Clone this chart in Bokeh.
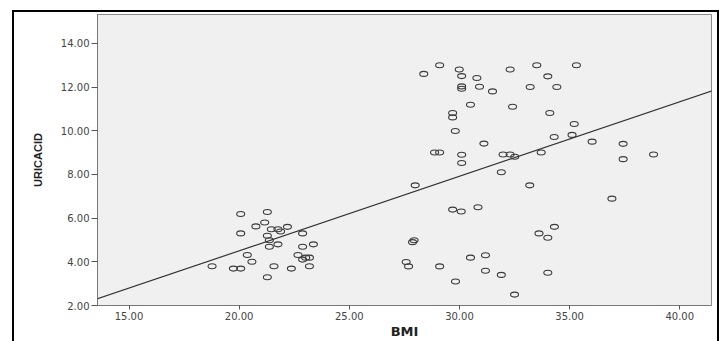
from bokeh.plotting import figure
from bokeh.models import Range1d, FixedTicker, NumeralTickFormatter, Slope, ColumnDataSource, InlineStyleSheet
from bokeh.embed import file_html
from bokeh.resources import INLINE

bmi = [20.07, 21.28, 21.16, 20.76, 21.46, 21.76, 21.88, 22.19, 20.07, 22.88,
       21.28, 21.37, 21.76, 21.37, 22.88, 23.37, 20.37, 20.58, 22.67, 22.88,
       23.02, 23.19, 18.77, 19.74, 20.07, 21.58, 22.37, 23.19, 21.28,
       29.10, 28.38, 29.99, 30.10, 30.79, 32.30, 30.10, 30.10, 30.91, 31.50,
       30.50, 32.41, 29.69, 29.69, 29.81, 31.11, 28.87, 29.10, 30.10, 30.10,
       31.98, 32.30, 32.51, 33.51, 35.31, 34.01, 33.21, 34.42, 34.10, 35.21,
       34.30, 35.11, 36.02, 37.43, 33.71, 37.43, 38.81, 31.90, 33.19, 36.92,
       34.31, 33.61, 34.01, 31.18, 31.18, 31.90, 34.01, 32.50, 27.99, 29.69,
       30.08, 30.84, 27.94, 27.87, 27.58, 27.69, 29.10, 30.50, 29.82]
uricacid = [6.19, 6.28, 5.80, 5.62, 5.49, 5.49, 5.39, 5.60, 5.30, 5.30,
            5.19, 4.99, 4.80, 4.69, 4.69, 4.80, 4.31, 4.00, 4.31, 4.10,
            4.19, 4.19, 3.80, 3.69, 3.69, 3.80, 3.69, 3.80, 3.29,
            13.00, 12.60, 12.80, 12.50, 12.41, 12.80, 12.03, 11.92, 12.01, 11.80,
            11.19, 11.10, 10.81, 10.61, 9.99, 9.41, 9.00, 9.00, 8.90, 8.52,
            8.91, 8.91, 8.81, 13.00, 13.00, 12.49, 12.00, 12.00, 10.81, 10.31,
            9.71, 9.81, 9.50, 9.40, 9.00, 8.70, 8.91, 8.10, 7.50, 6.89,
            5.60, 5.30, 5.10, 4.30, 3.59, 3.40, 3.50, 2.50, 7.50, 6.39,
            6.30, 6.50, 4.99, 4.90, 3.99, 3.79, 3.79, 4.19, 3.10]

x_ticks = [15, 20, 25, 30, 35, 40]
y_ticks = [2, 4, 6, 8, 10, 12, 14]

fit_slope = 0.3411
fit_intercept = -2.32

p = figure(width=724, height=341, output_backend="svg", toolbar_location=None,
           x_range=Range1d(13.57, 41.44), y_range=Range1d(2.0, 15.32),
           min_border_left=97, min_border_right=13, min_border_top=14, min_border_bottom=35)

p.background_fill_color = "#f0f0f0"
p.border_fill_color = "white"
p.outline_line_color = "#8a8a8a"
p.outline_line_width = 1
p.grid.visible = False

src = ColumnDataSource(dict(bmi=bmi, uricacid=uricacid))
p.ellipse(x="bmi", y="uricacid", width=8, height=5, width_units="screen", height_units="screen",
          source=src, fill_color=None, line_color="#3c3c3c", line_width=1.1)

p.add_layout(Slope(gradient=fit_slope, y_intercept=fit_intercept, line_color="#333333", line_width=1.2))

for ax, ticks in ((p.xaxis[0], x_ticks), (p.yaxis[0], y_ticks)):
    ax.ticker = FixedTicker(ticks=ticks)
    ax.formatter = NumeralTickFormatter(format="0.00")
    ax.minor_tick_line_color = None
    ax.major_tick_in = 0
    ax.axis_line_color = "#777777"
    ax.major_tick_line_color = "#555555"
    ax.major_label_text_font = "DejaVu Sans"
    ax.major_label_text_font_size = "10px"
    ax.major_label_text_color = "#444444"
    ax.axis_label_text_font_style = "bold"
    ax.axis_label_text_color = "#222222"

p.xaxis.major_tick_out = 4
p.xaxis.major_label_standoff = 2
p.xaxis.axis_label = "BMI"
p.xaxis.axis_label_text_font = "DejaVu Sans"
p.xaxis.axis_label_text_font_size = "13px"
p.xaxis.axis_label_standoff = 1

p.yaxis.major_tick_out = 6
p.yaxis.major_label_standoff = 2
p.yaxis.axis_label = "URICACID"
p.yaxis.axis_label_text_font = "Liberation Sans"
p.yaxis.axis_label_text_font_size = "11px"
p.yaxis.axis_label_standoff = 14

frame_css = """
:host { position: relative; }
:host::after {
  content: '';
  position: absolute;
  left: 12px; top: 10px; right: 5px; bottom: 0px;
  border: 2px solid black; border-bottom: none;
  pointer-events: none; z-index: 10;
}
"""
p.stylesheets = [InlineStyleSheet(css=frame_css)]

open("out.html", "w").write(file_html(p, INLINE))
